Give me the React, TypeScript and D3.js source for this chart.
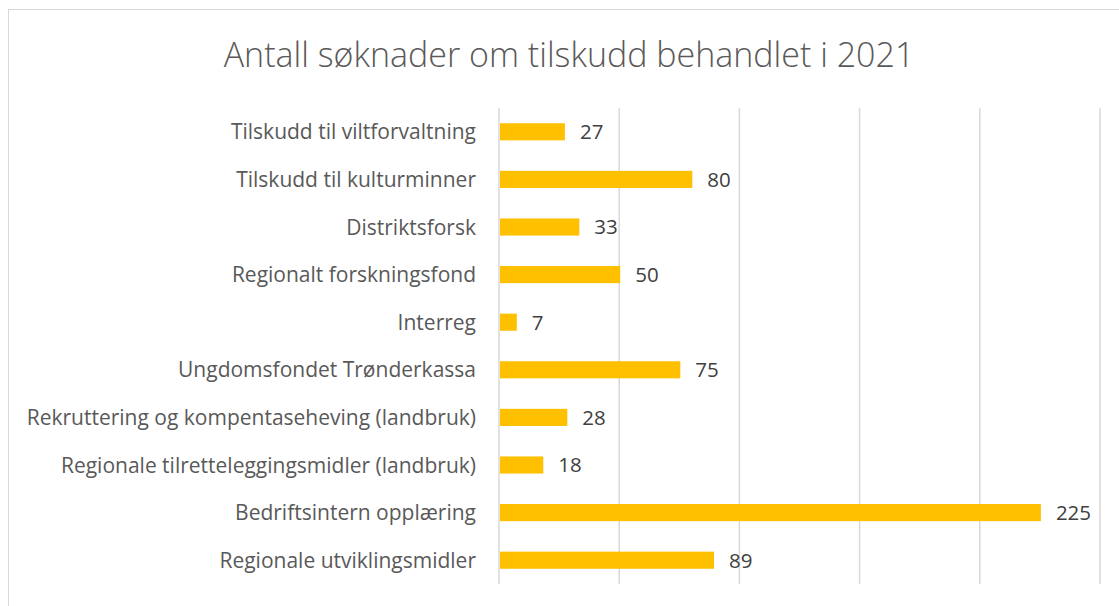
import React, { useRef, useEffect } from "react";
import * as d3 from "d3";

// data, top to bottom as in the chart
const categories = [
  "Tilskudd til viltforvaltning",
  "Tilskudd til kulturminner",
  "Distriktsforsk",
  "Regionalt forskningsfond",
  "Interreg",
  "Ungdomsfondet Trønderkassa",
  "Rekruttering og kompentaseheving (landbruk)",
  "Regionale tilretteleggingsmidler (landbruk)",
  "Bedriftsintern opplæring",
  "Regionale utviklingsmidler",
];
const values = [27, 80, 33, 50, 7, 75, 28, 18, 225, 89];
const xTicks = [0, 50, 100, 150, 200, 250];
const title = "Antall søknader om tilskudd behandlet i 2021";

const W = 1119;
const H = 606;

const App = () => {
  const svgRef = useRef<SVGSVGElement>(null);

  useEffect(() => {
    const svg = d3.select(svgRef.current);
    svg.selectAll("*").remove();

    const font = "'Open Sans', Lato, sans-serif";

    // chart frame
    svg.append("rect")
      .attr("x", 8.5)
      .attr("y", 9.5)
      .attr("width", W)
      .attr("height", H)
      .attr("fill", "#fff")
      .attr("stroke", "#d9d9d9")
      .attr("stroke-width", 1);

    // plot area
    const left = 499;
    const right = 1100;
    const top = 108;
    const bottom = 584;

    const x = d3.scaleLinear().domain([0, 250]).range([left, right]);
    const y = d3.scaleBand<string>()
      .domain(categories)
      .range([top, bottom])
      .paddingInner(0.64)
      .paddingOuter(0.32);

    // title
    svg.append("text")
      .attr("x", 569)
      .attr("y", 67)
      .attr("text-anchor", "middle")
      .attr("font-family", font)
      .attr("font-weight", 300)
      .attr("font-size", 34)
      .attr("fill", "#595959")
      .text(title);

    // vertical gridlines
    svg.append("g")
      .selectAll("line")
      .data(xTicks)
      .enter()
      .append("line")
      .attr("x1", d => x(d))
      .attr("x2", d => x(d))
      .attr("y1", top)
      .attr("y2", bottom)
      .attr("stroke", "#d9d9d9")
      .attr("stroke-width", 1.5);

    // bars
    svg.append("g")
      .selectAll("rect")
      .data(values)
      .enter()
      .append("rect")
      .attr("x", x(0) + 1)
      .attr("y", (d, i) => y(categories[i])!)
      .attr("width", d => x(d) - x(0))
      .attr("height", y.bandwidth())
      .attr("fill", "#ffc000");

    // value labels
    svg.append("g")
      .selectAll("text")
      .data(values)
      .enter()
      .append("text")
      .attr("x", d => x(d) + 16)
      .attr("y", (d, i) => y(categories[i])! + y.bandwidth() / 2)
      .attr("dy", "0.36em")
      .attr("font-family", font)
      .attr("font-size", 20.5)
      .attr("fill", "#404040")
      .text(d => d);

    // category labels
    svg.append("g")
      .selectAll("text")
      .data(categories)
      .enter()
      .append("text")
      .attr("x", left - 23)
      .attr("y", d => y(d)! + y.bandwidth() / 2)
      .attr("dy", "0.36em")
      .attr("text-anchor", "end")
      .attr("font-family", font)
      .attr("font-size", 21)
      .attr("fill", "#595959")
      .text(d => d);
  }, []);

  return (
    <svg
      ref={svgRef}
      width={W}
      height={H}
      style={{ position: "absolute", left: 0, top: 0, background: "#fff" }}
    ></svg>
  );
};

export default App;
